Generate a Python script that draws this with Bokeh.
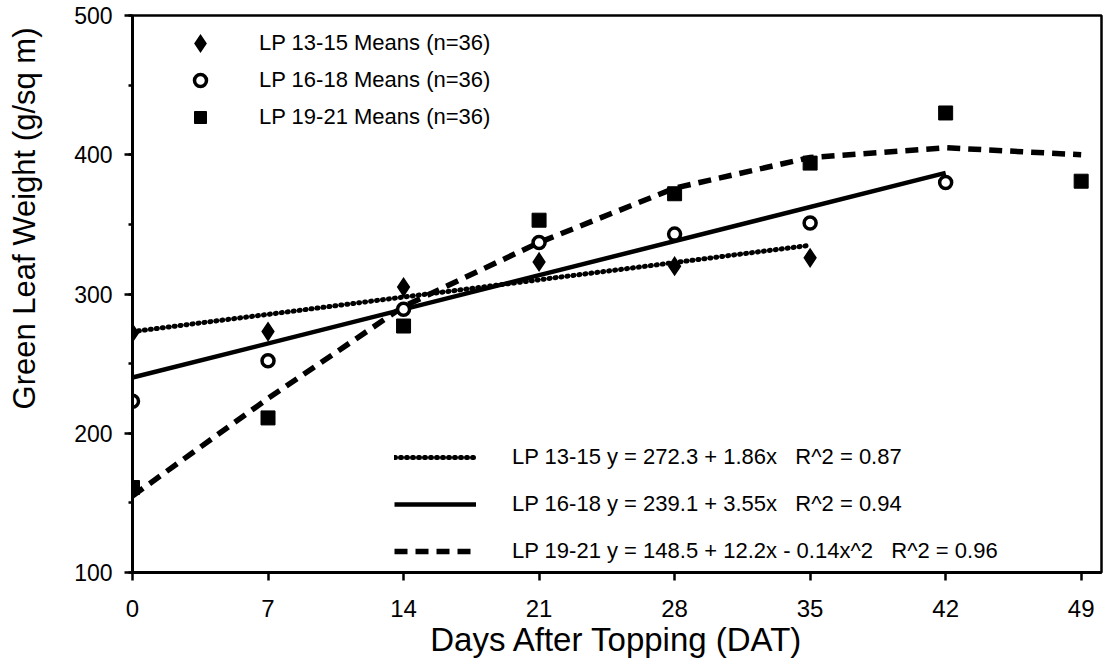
from bokeh.plotting import figure
from bokeh.models import (Range1d, FixedTicker, SingleIntervalTicker, Legend, LegendItem,
                          Title, LinearAxis)
from bokeh.embed import file_html
from bokeh.resources import INLINE

# ---- data ----
days_1315 = [0, 7, 14, 21, 28, 35]
lp1315 = [272, 273, 305, 323, 320, 326]

days_1618 = [0, 7, 14, 21, 28, 35, 42]
lp1618 = [223, 252, 289, 337, 343, 351, 380]

days_1921 = [0, 7, 14, 21, 28, 35, 42, 49]
lp1921 = [161, 211, 277, 353, 372, 394, 430, 381]

# fitted curves as drawn in the reference
fit1315_x = [0, 35]
fit1315_y = [273, 335]
fit1618_x = [0, 42]
fit1618_y = [240, 387]
fit1921_x = [0, 7, 14, 21, 28, 35, 42, 49]
fit1921_y = [155, 225, 291, 337, 376, 398, 405, 400]

x_ticks = [0, 7, 14, 21, 28, 35, 42, 49]
marker_labels = ["LP 13-15 Means (n=36)", "LP 16-18 Means (n=36)", "LP 19-21 Means (n=36)"]
fit_labels = ["LP 13-15 y = 272.3 + 1.86x   R^2 = 0.87",
              "LP 16-18 y = 239.1 + 3.55x   R^2 = 0.94",
              "LP 19-21 y = 148.5 + 12.2x - 0.14x^2   R^2 = 0.96"]
y_title = "Green Leaf Weight (g/sq m)"
x_title = "Days After Topping (DAT)"

FONT = "Liberation Sans"

p = figure(frame_width=969, frame_height=557, output_backend="svg", toolbar_location=None,
           x_range=Range1d(0, 50.05), y_range=Range1d(100, 500),
           min_border_left=132, min_border_top=15, min_border_right=2, min_border_bottom=97)
p.background_fill_color = "white"
p.border_fill_color = "white"
p.grid.visible = False
p.outline_line_color = "black"
p.outline_line_width = 2.5

# axes
p.xaxis.ticker = FixedTicker(ticks=x_ticks)
p.yaxis.ticker = SingleIntervalTicker(interval=100, num_minor_ticks=2)
for ax in (p.xaxis[0], p.yaxis[0]):
    ax.axis_line_width = 3
    ax.axis_line_color = "black"
    ax.major_tick_line_width = 2.5
    ax.major_tick_line_color = "black"
    ax.major_tick_in = 0
    ax.major_tick_out = 8
    ax.minor_tick_line_width = 2.5
    ax.minor_tick_line_color = "black"
    ax.minor_tick_in = 0
    ax.minor_tick_out = 4
    ax.major_label_text_font = FONT
    ax.major_label_text_color = "black"
    ax.axis_label_text_font = FONT
    ax.axis_label_text_font_style = "normal"
    ax.axis_label_text_color = "black"

p.xaxis.minor_tick_out = 0
p.xaxis.major_label_text_font_size = "24px"
p.xaxis.major_label_standoff = 19
p.xaxis.axis_label = x_title
p.xaxis.axis_label_text_font_size = "33px"
p.xaxis.axis_label_standoff = 1

p.yaxis.major_label_text_font_size = "23px"
p.yaxis.major_label_standoff = 12

# blank spacer between the tick labels and the y title (white tick, empty label)
spacer = LinearAxis(ticker=FixedTicker(ticks=[300]), axis_line_color="white", axis_line_width=1,
                    major_tick_out=28, major_tick_in=0, minor_tick_out=0, minor_tick_in=0,
                    major_tick_line_color="white", minor_tick_line_color="white",
                    major_label_overrides={300: ""}, major_label_standoff=0,
                    major_label_text_font_size="1px")
p.add_layout(spacer, "left")

# y-axis title as a side title, anchored near the top of the frame
p.add_layout(Title(text=y_title, align="right", offset=12, vertical_align="bottom",
                   standoff=4, text_font=FONT, text_font_size="31px",
                   text_font_style="normal", text_color="black"), "left")

# fitted lines
r_f1 = p.line(fit1315_x, fit1315_y, line_color="black", line_width=5,
              line_dash="1 5", line_cap="round")
r_f2 = p.line(fit1618_x, fit1618_y, line_color="black", line_width=4.5)
r_f3 = p.line(fit1921_x, fit1921_y, line_color="black", line_width=5.5, line_dash="13 8")

# data markers
r_m1 = p.scatter(days_1315, lp1315, marker="diamond", size=13,
                 fill_color="black", line_color="black", line_width=4, line_join="miter")
r_m2 = p.scatter(days_1618, lp1618, marker="circle", size=12,
                 fill_color="white", line_color="black", line_width=3.5)
r_m3 = p.scatter(days_1921, lp1921, marker="square", size=14,
                 fill_color="black", line_color="black", line_width=1)

leg_common = dict(margin=0, padding=0, border_line_color=None, background_fill_alpha=0,
                  label_text_font=FONT, label_text_font_size="22px",
                  label_text_color="black")

leg1 = Legend(items=[LegendItem(label=marker_labels[0], renderers=[r_m1]),
                     LegendItem(label=marker_labels[1], renderers=[r_m2]),
                     LegendItem(label=marker_labels[2], renderers=[r_m3])],
              location=(48, 440), glyph_width=40, glyph_height=30, label_height=30,
              spacing=7, label_standoff=39, **leg_common)
leg2 = Legend(items=[LegendItem(label=fit_labels[0], renderers=[r_f1]),
                     LegendItem(label=fit_labels[1], renderers=[r_f2]),
                     LegendItem(label=fit_labels[2], renderers=[r_f3])],
              location=(262, 6), glyph_width=82, glyph_height=30, label_height=30,
              spacing=17, label_standoff=36, **leg_common)
p.add_layout(leg1, "center")
p.add_layout(leg2, "center")

open("out.html", "w").write(file_html(p, INLINE))
